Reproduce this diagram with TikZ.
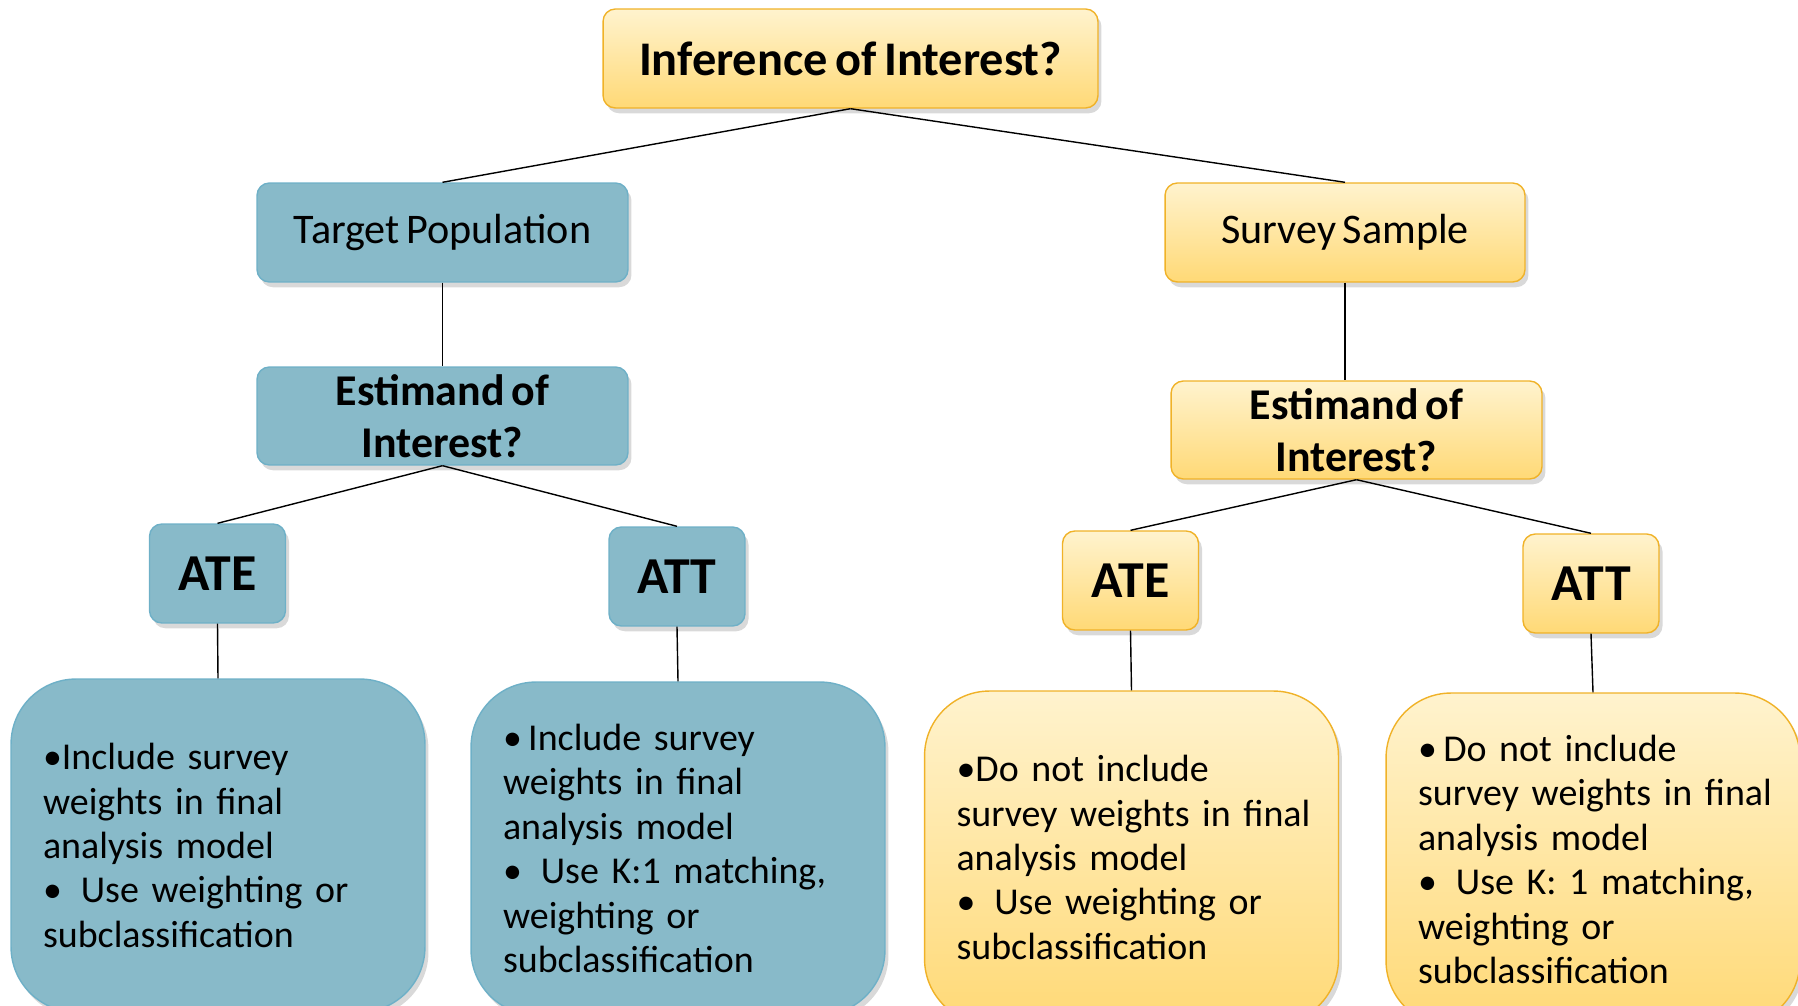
\documentclass[tikz,border=0pt]{standalone}
\usepackage{fontspec}
\setmainfont{Carlito}[WordSpace=0.7]
\usepackage{tikz}
\usetikzlibrary{shadows}
\usetikzlibrary{positioning,shapes}
\definecolor{tealfill}{RGB}{136,186,201}
\definecolor{tealdraw}{RGB}{110,176,199}
\definecolor{goldtop}{RGB}{255,243,206}
\definecolor{goldbot}{RGB}{255,217,118}
\definecolor{golddraw}{RGB}{240,178,40}
\tikzstyle{line}=[-, line width=0.8pt, black]
\tikzstyle{shade}=[drop shadow={shadow xshift=2pt, shadow yshift=-3pt, opacity=0.3}]
\tikzstyle{bluebox}=[rectangle, draw=tealdraw, line width=0.8pt, fill=tealfill,
		shade, text=black, text centered, rounded corners=7pt, inner sep=0pt]
\tikzstyle{goldbox}=[rectangle, draw=golddraw, line width=0.8pt, top color=goldtop,
		bottom color=goldbot, shade, text=black, text centered, rounded corners=7pt, inner sep=0pt]
\tikzstyle{title}=[font=\fontsize{27.5}{31}\selectfont\bfseries]
\tikzstyle{branch}=[font=\fontsize{24}{28}\selectfont, minimum height=1.98cm]
\tikzstyle{quest}=[font=\fontsize{25}{29.6}\selectfont\bfseries, align=center, minimum height=1.96cm]
\tikzstyle{est}=[font=\fontsize{29.5}{33}\selectfont\bfseries, minimum width=2.72cm, minimum height=1.98cm]
\tikzstyle{advice}=[font=\fontsize{21.6}{25.3}\selectfont, rounded corners=37pt, align=left,
		text width=7.0cm, minimum width=8.28cm, minimum height=6.66cm]

\begin{document}
\begin{tikzpicture}[x=0.02cm, y=-0.02cm]

    \clip (0,0) rectangle (1798,1006);

    \node (Infer) [goldbox, title, minimum width=9.9cm, minimum height=1.98cm]
        at (850.5,58.5) {Inference of Interest?};

    \node (Target) [bluebox, branch, minimum width=7.42cm] at (442.5,232.5) {Target Population};
    \node (Survey) [goldbox, branch, minimum width=7.2cm] at (1345,232.5) {Survey Sample};

    \node (EstTarget) [bluebox, quest, minimum width=7.42cm] at (442.5,416) {Estimand of\\Interest?};
    \node (EstSurvey) [goldbox, quest, minimum width=7.42cm] at (1356.5,430) {Estimand of\\Interest?};

    \node (AteTarget) [bluebox, est] at (217.5,573.5) {ATE};
    \node (AttTarget) [bluebox, est] at (677,576.5) {ATT};
    \node (AteSurvey) [goldbox, est] at (1130.5,580.5) {ATE};
    \node (AttSurvey) [goldbox, est] at (1591,583.5) {ATT};

    \node (AteTargetTip) [bluebox, advice] at (218,845.5) {
        •Include survey\\
        weights in final\\
        analysis model\\
        •\, Use weighting or\\
        subclassification
    };
    \node (AttTargetTip) [bluebox, advice] at (678,848.5) {
        •\,Include survey\\
        weights in final\\
        analysis model\\
        •\, Use K:1 matching,\\
        weighting or\\
        subclassification
    };
    \node (AteSurveyTip) [goldbox, advice] at (1131.5,857.5) {
        •Do not include\\
        \mbox{survey weights in final}\\
        analysis model\\
        •\, Use weighting or\\
        subclassification
    };
    \node (AttSurveyTip) [goldbox, advice] at (1593,859.5) {
        •\,Do not include\\
        \mbox{survey weights in final}\\
        analysis model\\
        •\, Use K: 1 matching,\\
        weighting or\\
        subclassification
    };

    \draw [line] (Infer.south) -- (Target.north);
    \draw [line] (Infer.south) -- (Survey.north);
    \draw [line] (Target.south) -- (EstTarget.north);
    \draw [line] (Survey.south) -- (Survey.south |- EstSurvey.north);
    \draw [line] (EstTarget.south) -- (AteTarget.north);
    \draw [line] (EstTarget.south) -- (AttTarget.north);
    \draw [line] (EstSurvey.south) -- (AteSurvey.north);
    \draw [line] (EstSurvey.south) -- (AttSurvey.north);
    \draw [line] (AteTarget.south) -- (AteTargetTip.north);
    \draw [line] (AttTarget.south) -- (AttTargetTip.north);
    \draw [line] (AteSurvey.south) -- (AteSurveyTip.north);
    \draw [line] (AttSurvey.south) -- (AttSurveyTip.north);

  \end{tikzpicture}
\end{document}
